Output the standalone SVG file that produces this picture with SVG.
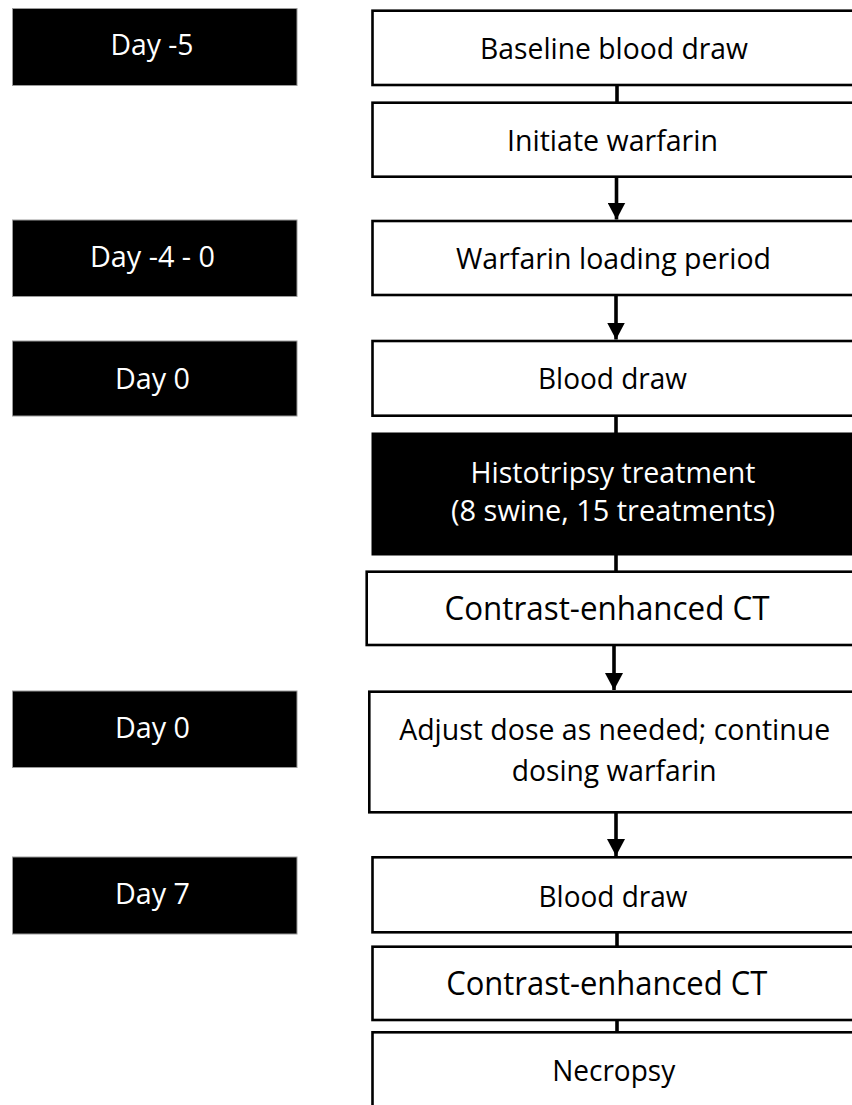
<svg xmlns="http://www.w3.org/2000/svg" width="852" height="1105" viewBox="0 0 852 1105">
<style>
.day{fill:#000;stroke:#9a9a9a;stroke-width:1}
.box{fill:#fff;stroke:#000;stroke-width:2.6}
.dark{fill:#000;stroke:#000;stroke-width:1}
text{font-family:"Open Sans","Noto Sans","DejaVu Sans",sans-serif;font-size:29px;text-anchor:middle;lengthAdjust:spacingAndGlyphs}
.w{fill:#fff}
.k{fill:#000}
.big{font-size:32px}
.conn{stroke:#000;stroke-width:3.6;fill:none}
</style>
<defs>
<marker id="ah" markerUnits="userSpaceOnUse" markerWidth="18" markerHeight="18" refX="17" refY="9" orient="auto">
<path d="M0,0 L17,9 L0,18 Z" fill="#000"/>
</marker>
</defs>
<rect width="852" height="1105" fill="#fff"/>
<g id="connectors">
<line class="conn" x1="617" y1="85" x2="617" y2="103"/>
<line class="conn" x1="616.5" y1="177" x2="616.5" y2="219.5" marker-end="url(#ah)"/>
<line class="conn" x1="616" y1="295" x2="616" y2="339.5" marker-end="url(#ah)"/>
<line class="conn" x1="616" y1="416" x2="616" y2="433"/>
<line class="conn" x1="616" y1="555" x2="616" y2="572"/>
<line class="conn" x1="614" y1="645" x2="614" y2="690" marker-end="url(#ah)"/>
<line class="conn" x1="616" y1="812" x2="616" y2="856" marker-end="url(#ah)"/>
<line class="conn" x1="617" y1="932" x2="617" y2="947"/>
<line class="conn" x1="617" y1="1020" x2="617" y2="1032"/>
</g>
<g id="day-m5"><rect class="day" x="12.5" y="8.5" width="284.5" height="77"/><text class="w" x="152" y="55" textLength="83" lengthAdjust="spacingAndGlyphs">Day -5</text></g>
<g id="day-m4-0"><rect class="day" x="12.5" y="220" width="284.5" height="76.5"/><text class="w" x="152.5" y="266.5" textLength="125" lengthAdjust="spacingAndGlyphs">Day -4 - 0</text></g>
<g id="day-0a"><rect class="day" x="12.5" y="341" width="284.5" height="75"/><text class="w" x="152.5" y="389" textLength="75" lengthAdjust="spacingAndGlyphs">Day 0</text></g>
<g id="day-0b"><rect class="day" x="12.5" y="691" width="284.5" height="76.5"/><text class="w" x="152.5" y="737.5" textLength="75" lengthAdjust="spacingAndGlyphs">Day 0</text></g>
<g id="day-7"><rect class="day" x="12.5" y="857" width="284.5" height="77"/><text class="w" x="152.5" y="903.5" textLength="75" lengthAdjust="spacingAndGlyphs">Day 7</text></g>
<g id="baseline"><rect class="box" x="372.5" y="10.7" width="500" height="74.3"/><text class="k" x="614" y="58.5" textLength="268" lengthAdjust="spacingAndGlyphs">Baseline blood draw</text></g>
<g id="initiate"><rect class="box" x="372.5" y="102.7" width="500" height="74"/><text class="k" x="612.5" y="150.5" textLength="211" lengthAdjust="spacingAndGlyphs">Initiate warfarin</text></g>
<g id="loading"><rect class="box" x="372.5" y="221" width="500" height="74"/><text class="k" x="613.5" y="268.5" textLength="315" lengthAdjust="spacingAndGlyphs">Warfarin loading period</text></g>
<g id="blood1"><rect class="box" x="372.5" y="341" width="500" height="74.7"/><text class="k" x="612.5" y="389.3" textLength="149" lengthAdjust="spacingAndGlyphs">Blood draw</text></g>
<g id="histotripsy"><rect class="dark" x="372" y="433" width="500" height="122"/><text class="w" x="613" y="482.7" textLength="285" lengthAdjust="spacingAndGlyphs">Histotripsy treatment</text><text class="w" x="613" y="520.7" textLength="324" lengthAdjust="spacingAndGlyphs">(8 swine, 15 treatments)</text></g>
<g id="ct1"><rect class="box" x="366.7" y="571.7" width="500" height="73.3"/><text class="k big" x="607" y="620" textLength="325" lengthAdjust="spacingAndGlyphs">Contrast-enhanced CT</text></g>
<g id="adjust"><rect class="box" x="369.3" y="691.7" width="500" height="120.6"/><text class="k" x="614.7" y="740" textLength="431" lengthAdjust="spacingAndGlyphs">Adjust dose as needed; continue</text><text class="k" x="614.2" y="780.7" textLength="205" lengthAdjust="spacingAndGlyphs">dosing warfarin</text></g>
<g id="blood2"><rect class="box" x="372.5" y="857.3" width="500" height="75"/><text class="k" x="613" y="906.7" textLength="149" lengthAdjust="spacingAndGlyphs">Blood draw</text></g>
<g id="ct2"><rect class="box" x="372.5" y="946.7" width="500" height="73.3"/><text class="k big" x="606.7" y="995" textLength="321" lengthAdjust="spacingAndGlyphs">Contrast-enhanced CT</text></g>
<g id="necropsy"><rect class="box" x="372.5" y="1032.3" width="500" height="90"/><text class="k" x="613.7" y="1080.7" textLength="123" lengthAdjust="spacingAndGlyphs">Necropsy</text></g>
</svg>
